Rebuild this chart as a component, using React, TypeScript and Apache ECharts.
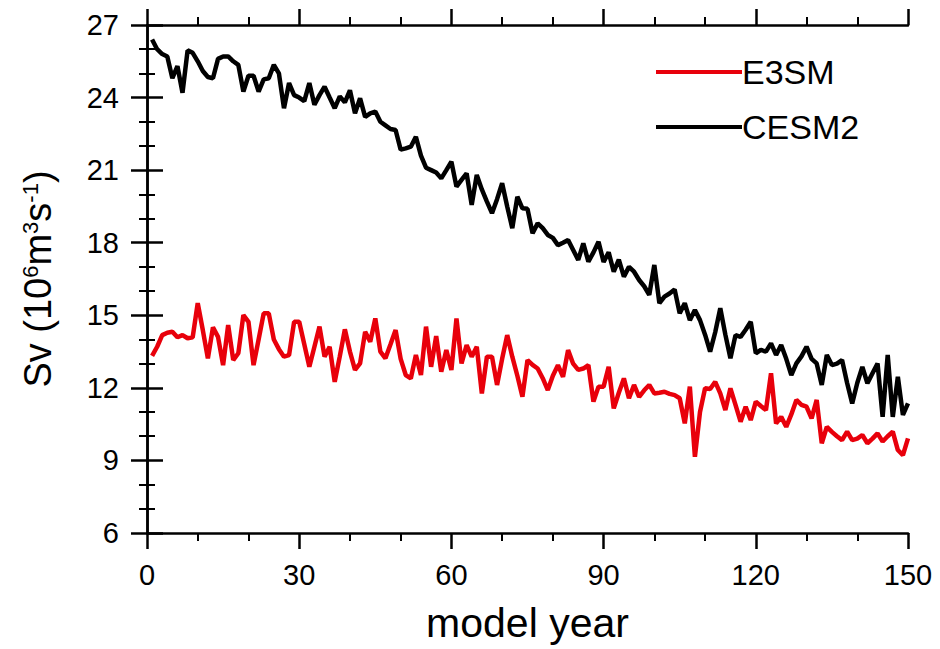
import React, { useEffect, useRef } from "react";
import * as echarts from "echarts";

const years: number[] = Array.from({ length: 150 }, (_, i) => i + 1);

const cesm2: number[] = [
  26.4, 26.0, 25.8, 25.7, 24.8, 25.3, 24.2, 25.95, 25.85, 25.5,
  25.1, 24.85, 24.8, 25.6, 25.7, 25.7, 25.5, 25.35, 24.25, 24.9,
  24.9, 24.25, 24.75, 24.8, 25.35, 25.0, 23.56, 24.6, 24.1, 24.0,
  23.85, 24.6, 23.7, 24.1, 24.45, 24.0, 23.56, 24.05, 23.8, 24.3,
  23.35, 23.97, 23.2, 23.35, 23.42, 23.0, 22.85, 22.7, 22.66, 21.85,
  21.9, 21.97, 22.38, 21.6, 21.1, 21.0, 20.9, 20.66, 21.0, 21.35,
  20.32, 20.6, 20.87, 19.56, 20.8, 20.2, 19.7, 19.22, 19.8, 20.46,
  19.5, 18.6, 19.9, 19.42, 19.4, 18.39, 18.8, 18.6, 18.32, 18.2,
  17.9, 18.0, 18.11, 17.7, 17.29, 17.97, 17.22, 17.6, 18.04, 17.2,
  17.6, 16.8, 17.3, 16.6, 17.0, 16.8, 16.46, 16.2, 15.84, 17.08,
  15.5, 15.77, 15.9, 16.07, 15.08, 15.5, 14.8, 15.22, 14.8, 14.2,
  13.5, 14.3, 15.29, 14.2, 13.22, 14.18, 14.11, 14.4, 14.73, 13.43,
  13.57, 13.5, 13.84, 13.36, 13.77, 13.2, 12.53, 13.01, 13.3, 13.7,
  13.2, 13.01, 12.12, 13.36, 12.94, 13.0, 13.15, 12.2, 11.36, 12.2,
  12.87, 12.19, 12.6, 13.01, 10.8, 13.36, 10.8, 12.46, 10.88, 11.36,
];

const e3sm: number[] = [
  13.32, 13.7, 14.18, 14.28, 14.32, 14.09, 14.18, 14.05, 14.09, 15.5,
  14.39, 13.22, 14.5, 14.11, 12.94, 14.6, 13.15, 13.43, 15.01, 14.73,
  12.94, 14.0, 15.08, 15.08, 14.0, 13.6, 13.29, 13.35, 14.73, 14.73,
  13.8, 12.87, 13.7, 14.53, 13.29, 13.7, 12.25, 13.3, 14.42, 13.5,
  12.74, 13.01, 14.32, 13.91, 14.87, 13.5, 13.22, 13.8, 14.39, 13.2,
  12.53, 12.39, 13.36, 12.53, 14.53, 12.87, 14.14, 12.67, 13.56, 12.74,
  14.87, 13.01, 13.77, 13.29, 13.7, 11.77, 13.29, 13.29, 12.12, 13.2,
  14.18, 13.29, 12.5, 11.63, 13.15, 12.95, 12.8, 12.4, 11.91, 12.5,
  12.94, 12.46, 13.56, 13.0, 12.74, 12.8, 12.94, 11.43, 12.05, 12.05,
  12.87, 11.15, 11.8, 12.39, 11.57, 12.12, 11.63, 11.9, 12.12, 11.77,
  11.8, 11.84, 11.75, 11.7, 11.57, 10.53, 12.05, 9.15, 11.0, 11.98,
  11.95, 12.25, 11.77, 11.08, 11.98, 11.3, 10.6, 11.22, 10.67, 11.43,
  11.25, 11.08, 12.6, 10.53, 10.8, 10.39, 10.9, 11.5, 11.3, 11.22,
  10.74, 11.5, 9.71, 10.39, 10.18, 10.0, 9.84, 10.19, 9.84, 9.9,
  10.05, 9.71, 9.9, 10.12, 9.78, 10.0, 10.19, 9.43, 9.22, 9.91,
];

const seriesNames: string[] = ["E3SM", "CESM2"];
const xTicks: number[] = [0, 30, 60, 90, 120, 150];
const yTicks: number[] = [6, 9, 12, 15, 18, 21, 24, 27];

const FONT = "'Liberation Sans', Arial, Helvetica, sans-serif";

export default function App() {
  const ref = useRef<HTMLDivElement>(null);

  useEffect(() => {
    if (!ref.current) return;
    const chart = echarts.init(ref.current, undefined, { renderer: "svg" });

    const axisLine = { show: true, lineStyle: { color: "#000", width: 2.5 } };
    const axisTick = { show: true, length: 16, lineStyle: { color: "#000", width: 2.5 } };
    const minorTick = { show: true, length: 8, splitNumber: 3, lineStyle: { color: "#000", width: 2 } };

    const xBase = {
      type: "value" as const,
      min: xTicks[0],
      max: xTicks[xTicks.length - 1],
      interval: 30,
      axisLine,
      axisTick,
      minorTick,
      splitLine: { show: false },
    };
    const yBase = {
      type: "value" as const,
      min: yTicks[0],
      max: yTicks[yTicks.length - 1],
      interval: 3,
      axisLine,
      axisTick,
      minorTick,
      splitLine: { show: false },
    };

    chart.setOption({
      animation: false,
      backgroundColor: "#fff",
      grid: {
        left: 147,
        right: 32,
        top: 25,
        bottom: 116,
        containLabel: false,
        outerBoundsMode: "none",
      },
      legend: {
        data: seriesNames,
        orient: "vertical",
        left: 651,
        top: 50,
        itemWidth: 86,
        itemHeight: 4,
        itemGap: 21,
        icon: "rect",
        textStyle: { fontFamily: FONT, fontSize: 34, color: "#000", lineHeight: 34, padding: [0, 0, 0, -5] },
      },
      xAxis: [
        {
          ...xBase,
          position: "bottom",
          name: "model year",
          nameLocation: "middle",
          nameGap: 69,
          nameTextStyle: { fontFamily: FONT, fontSize: 41, color: "#000", lineHeight: 41 },
          axisLabel: { fontFamily: FONT, fontSize: 29, color: "#000", margin: 27 },
        },
        {
          ...xBase,
          position: "top",
          axisLabel: { show: false },
        },
      ],
      yAxis: [
        {
          ...yBase,
          position: "left",
          name: "{m|Sv (10}{s|6}{m|m}{s|3}{m|s}{s|-1}{m|)}",
          nameLocation: "middle",
          nameGap: 90,
          nameRotate: 90,
          nameTextStyle: {
            fontFamily: FONT,
            color: "#000",
            rich: {
              m: { fontFamily: FONT, fontSize: 38, lineHeight: 38, color: "#000" },
              s: { fontFamily: FONT, fontSize: 22, lineHeight: 22, color: "#000", verticalAlign: "top" },
            },
          },
          axisLabel: { fontFamily: FONT, fontSize: 29, color: "#000", margin: 28 },
        },
        {
          ...yBase,
          position: "right",
          axisLabel: { show: false },
        },
      ],
      series: [
        {
          name: seriesNames[0],
          type: "line",
          data: years.map((y, i) => [y, e3sm[i]]),
          showSymbol: false,
          lineStyle: { color: "#e8000b", width: 4.5 },
          itemStyle: { color: "#e8000b" },
          z: 3,
        },
        {
          name: seriesNames[1],
          type: "line",
          data: years.map((y, i) => [y, cesm2[i]]),
          showSymbol: false,
          lineStyle: { color: "#000", width: 4.5 },
          itemStyle: { color: "#000" },
          z: 4,
        },
      ],
    });

    return () => chart.dispose();
  }, []);

  return (
    <div
      ref={ref}
      style={{ position: "fixed", left: 0, top: 0, width: 940, height: 649, background: "#fff" }}
    />
  );
}
